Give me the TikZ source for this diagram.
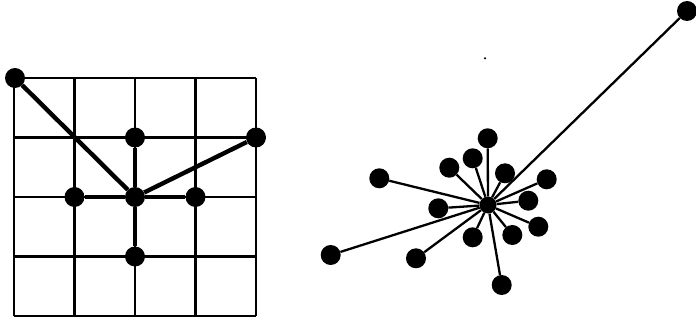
\documentclass[tikz,border=0pt]{standalone}
\usepackage{tikz}
\usetikzlibrary{positioning}

\begin{document}
\begin{tikzpicture}[
    x=1pt, y=-1pt,
    dot/.style={circle, fill=black, inner sep=0pt, minimum size=20pt},
    hubdot/.style={circle, fill=black, inner sep=0pt, minimum size=17pt},
    gridline/.style={line width=2.4pt, line cap=square},
    edge/.style={line width=4.4pt},
    spoke/.style={line width=2.3pt}
]
\useasboundingbox (0,0) rectangle (696,320);

% Left: 4x4 grid with a star on its crossings
\foreach \i in {0,...,4} {
    \draw[gridline] (14+60.5*\i,78) -- (14+60.5*\i,316);
    \draw[gridline] (14,78+59.5*\i) -- (256,78+59.5*\i);
}
\node[dot] (gc)  at (135,197) {};
\node[dot] (gtl) at (15,78) {};
\node[dot] (gn)  at (135,137.5) {};
\node[dot] (gne) at (256,137.5) {};
\node[dot] (gw)  at (74.5,197) {};
\node[dot] (ge)  at (195.5,197) {};
\node[dot] (gs)  at (135,256.5) {};
\foreach \n in {gtl,gn,gne,gw,ge,gs}
    \draw[edge] (gc) -- (\n);

% Right: free star around one hub
\node[hubdot] (hub) at (488,205) {};
\foreach \n/\x/\y in {
    r1/487.7/138.3, r2/472.7/158.3, r3/449.3/167.7, r4/505/173.3,
    r5/546.7/179.3, r6/379.3/178.3, r7/528.3/200.7, r8/438.3/208.3,
    r9/538.3/226.7, r10/512.3/235, r11/472.7/237.3, r12/416/258.3,
    r13/330.7/255, r14/501.7/285, r15/687/11} {
    \node[dot] (\n) at (\x,\y) {};
    \draw[spoke] (hub) -- (\n);
}
\fill (485,58.3) circle (1.2pt);

\end{tikzpicture}
\end{document}
